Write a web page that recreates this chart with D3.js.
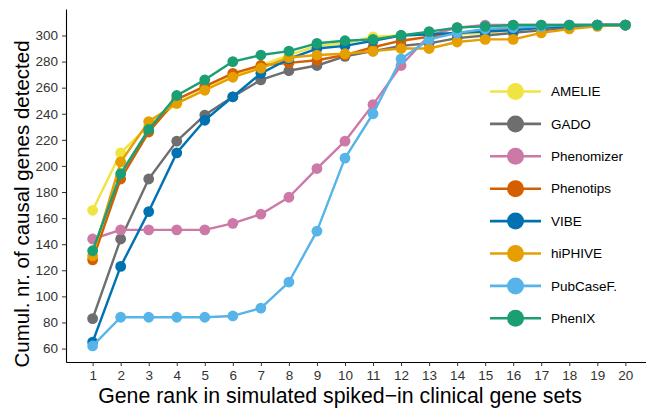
<!DOCTYPE html>
<html><head><meta charset="utf-8">
<script src="https://cdn.jsdelivr.net/npm/d3@7"></script>
<style>
html,body{margin:0;padding:0;background:#fff;}
svg{display:block;font-family:"Liberation Sans",Arial,Helvetica,sans-serif;}
</style></head>
<body>
<svg id="chart" width="646" height="409"></svg>
<script>
const ranks = d3.range(1, 21);
const xTickLabels = ranks.map(String);
const yTicks = [60, 80, 100, 120, 140, 160, 180, 200, 220, 240, 260, 280, 300];

const seriesNames = ["AMELIE", "GADO", "Phenomizer", "Phenotips", "VIBE", "hiPHIVE", "PubCaseF.", "PhenIX"];
const seriesColors = ["#F0E442", "#6E6E70", "#CC79A7", "#D55E00", "#0072B2", "#E69F00", "#56B4E9", "#1A9E74"];

const amelie     = [166, 210, 231, 248, 259, 269, 277, 285, 292, 294, 299, 300, 301, 301, 302, 304, 306, 307, 308, 308];
const gado       = [83, 144, 190, 219, 239, 253, 266, 273, 277, 284, 288, 292, 294, 298, 300, 302, 304, 306, 308, 308];
const phenomizer = [144, 151, 151, 151, 151, 156, 163, 176, 198, 219, 247, 277, 300, 306, 308, 308, 308, 308, 308, 308];
const phenotips  = [128, 190, 226, 251, 261, 271, 277, 279, 281, 285, 291, 296, 299, 302, 304, 305, 306, 307, 308, 308];
const vibe       = [65, 123, 165, 210, 235, 253, 271, 282, 290, 292, 296, 300, 301, 302, 303, 304, 306, 307, 308, 308];
const hiphive    = [131, 203, 234, 248, 258, 268, 275, 283, 285, 286, 288, 290, 290, 295, 297, 297, 302, 305, 307, 308];
const pubcasef   = [62, 84, 84, 84, 84, 85, 91, 111, 150, 206, 240, 282, 297, 302, 305, 306, 307, 308, 308, 308];
const phenix     = [135, 194, 228, 254, 266, 280, 285, 288, 294, 296, 297, 300, 303, 306, 307, 308, 308, 308, 308, 308];

const seriesValues = [amelie, gado, phenomizer, phenotips, vibe, hiphive, pubcasef, phenix];

const series = seriesNames.map((n, i) => ({
  name: n, color: seriesColors[i],
  pts: seriesValues[i].map((v, j) => ({x: ranks[j], y: v}))
}));

const svg = d3.select("#chart");
const mLeft = 66, mTop = 9, mBottom = 362, mRight = 652;

const x = d3.scaleLinear().domain([0.05, 20.95]).range([mLeft, mRight]);
const y = d3.scaleLinear().domain([49.7, 320.3]).range([mBottom, mTop]);

// axes
const xAxis = svg.append("g").attr("transform", `translate(0,${mBottom})`)
  .call(d3.axisBottom(x).tickValues(ranks).tickFormat((d, i) => xTickLabels[i]).tickSize(4).tickSizeOuter(0).tickPadding(4));
const yAxis = svg.append("g").attr("transform", `translate(${mLeft},0)`)
  .call(d3.axisLeft(y).tickValues(yTicks).tickSize(4).tickSizeOuter(0).tickPadding(4));
[xAxis, yAxis].forEach(g => {
  g.select(".domain").attr("stroke", "#000").attr("stroke-width", 1.1);
  g.selectAll(".tick line").attr("stroke", "#333").attr("stroke-width", 1);
  g.selectAll(".tick text").attr("fill", "#333").style("font-size", "13.5px").style("font-family", "Liberation Sans, Arial, sans-serif");
});

// lines
const line = d3.line().x(d => x(d.x)).y(d => y(d.y));
const plot = svg.append("g");
series.forEach(s => {
  const g = plot.append("g");
  g.append("path").datum(s.pts).attr("d", line)
    .attr("fill", "none").attr("stroke", s.color).attr("stroke-width", 2.4).attr("stroke-linejoin", "round");
  g.selectAll("circle").data(s.pts).join("circle")
    .attr("cx", d => x(d.x)).attr("cy", d => y(d.y)).attr("r", 5.4).attr("fill", s.color);
});

// titles
svg.append("text").attr("x", 340).attr("y", 403).attr("text-anchor", "middle")
  .style("font-size", "21.3px").attr("fill", "#000").text("Gene rank in simulated spiked\u2212in clinical gene sets");
svg.append("text").attr("transform", `translate(29,204) rotate(-90)`).attr("text-anchor", "middle")
  .style("font-size", "20.5px").attr("fill", "#000").text("Cumul. nr. of causal genes detected");

// legend
const leg = svg.append("g");
series.forEach((s, i) => {
  const cy = 91.5 + i * 32.4;
  leg.append("line").attr("x1", 490).attr("x2", 541).attr("y1", cy).attr("y2", cy)
    .attr("stroke", s.color).attr("stroke-width", 2.6);
  leg.append("circle").attr("cx", 515.5).attr("cy", cy).attr("r", 8.5).attr("fill", s.color);
  leg.append("text").attr("x", 551).attr("y", cy).attr("dy", "0.35em")
    .style("font-size", "13.5px").attr("fill", "#000").text(s.name);
});
</script>
</body></html>
